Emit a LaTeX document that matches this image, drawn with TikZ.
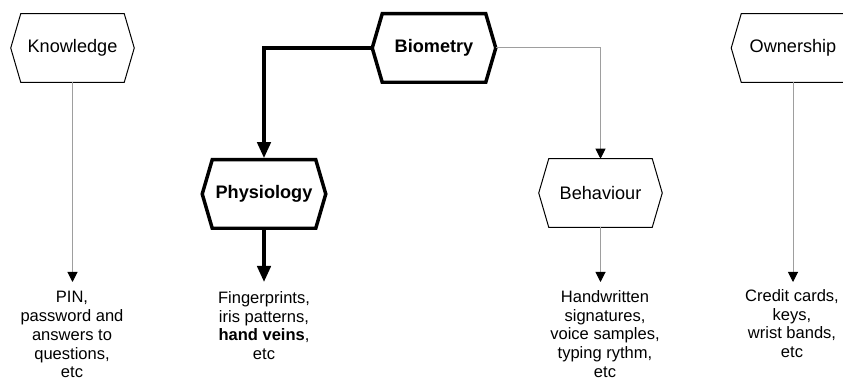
\documentclass[tikz,border=0pt]{standalone}
\usepackage{fontspec}
\setmainfont{Liberation Sans}
\usetikzlibrary{arrows.meta}
\tikzset{
  hexnode/.style={minimum width=77.25pt, minimum height=51pt, inner sep=0pt,
    font=\fontsize{13.6}{15}\selectfont},
  hexbold/.style={hexnode, font=\fontsize{13.6}{15}\selectfont\bfseries},
  hexthin/.style={draw=black, line width=0.75pt, line join=miter},
  hexthick/.style={draw=black, line width=2.6pt, line join=miter},
  desc/.style={align=center, inner sep=0pt, anchor=north,
    font=\fontsize{12.4}{14.1}\selectfont},
  thinarrow/.style={draw=black!38, line width=0.75pt,
    -{Triangle[width=7.5pt,length=7.5pt,color=black]}},
  thickarrow/.style={draw=black, line width=2.6pt,
    -{Triangle[width=10pt,length=12pt,color=black]}},
}
\newcommand\hexoutline[2]{%
  \path[#1] (#2.north west) -- (#2.north east) -- ([xshift=7.5pt]#2.east)
    -- (#2.south east) -- (#2.south west) -- ([xshift=-7.5pt]#2.west) -- cycle;}
\begin{document}
\begin{tikzpicture}[x=0.75pt, y=-0.75pt]
\useasboundingbox (0,0) rectangle (843,381);
\clip (0,0) rectangle (843,381);

% hexagon nodes
\node[hexnode] (know) at (72.5,48) {Knowledge};
\node[hexbold] (bio) at (434,48) {Biometry};
\node[hexbold] (phy) at (264,194) {Physiology};
\node[hexnode] (beh) at (600.5,193) {Behaviour};
\node[hexnode] (own) at (793,48) {Ownership};

\hexoutline{hexthin}{know}
\hexoutline{hexthick}{bio}
\hexoutline{hexthick}{phy}
\hexoutline{hexthin}{beh}
\hexoutline{hexthin}{own}

% tips of the biometry hexagon
\coordinate (bioL) at ([xshift=-7.5pt]bio.west);
\coordinate (bioR) at ([xshift=7.5pt]bio.east);

% description texts
\node[desc] (knowt) at (72,291) {PIN,\\password and\\answers to\\questions,\\etc};
\node[desc] (phyt) at (264,291) {Fingerprints,\\iris patterns,\\\textbf{hand veins},\\etc};
\node[desc] (beht) at (605,290) {Handwritten\\signatures,\\voice samples,\\typing rythm,\\etc};
\node[desc] (ownt) at (792,289) {Credit cards,\\keys,\\wrist bands,\\etc};

% connectors
\coordinate (knowtip) at (72.5,282);
\coordinate (phytip) at (264,282);
\coordinate (behtip) at (600.5,282);
\coordinate (owntip) at (793,282);

\draw[thinarrow] (know.south) -- (knowtip);
\draw[thickarrow, shorten >=1.2pt] (bioL) -| (phy.north);
\draw[thinarrow] (bioR) -| (beh.north);
\draw[thickarrow] (phy.south) -- (phytip);
\draw[thinarrow] (beh.south) -- (behtip);
\draw[thinarrow] (own.south) -- (owntip);
\end{tikzpicture}
\end{document}
